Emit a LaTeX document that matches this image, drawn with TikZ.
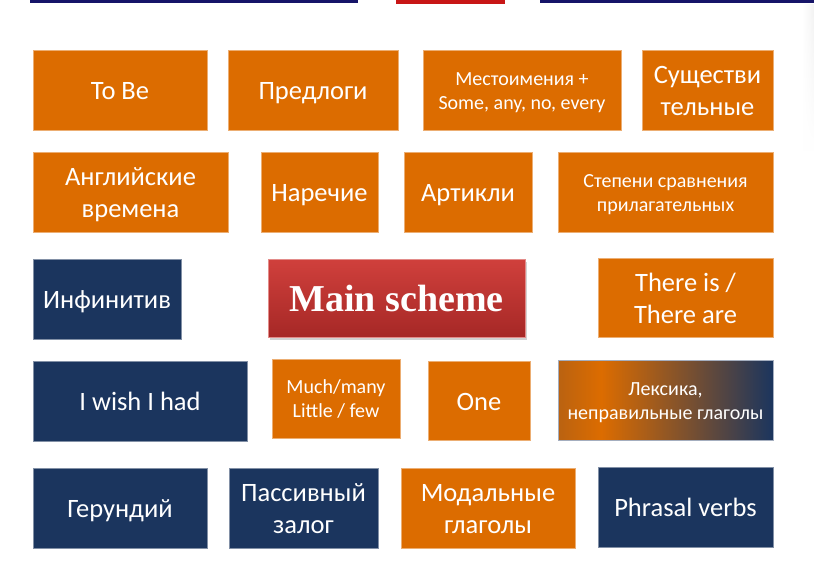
\documentclass[tikz,border=0pt]{standalone}
\usepackage{fontspec}
\setmainfont{Carlito}
\newfontfamily\headfont{Liberation Serif}
\usetikzlibrary{shadows,fadings}
\definecolor{topicorange}{RGB}{220,108,0}
\definecolor{topicnavy}{RGB}{27,53,94}
\definecolor{barnavy}{RGB}{22,20,104}
\definecolor{barred}{RGB}{200,22,22}
\definecolor{mainred}{RGB}{208,64,60}
\definecolor{maindark}{RGB}{166,40,38}
% orange-to-navy blend; the path itself spans 25bp..75bp
\pgfdeclarehorizontalshading{lexshade}{100bp}{%
  color(0bp)=(topicorange!82!topicnavy);
  color(25bp)=(topicorange!82!topicnavy);
  color(35bp)=(topicorange);
  color(75bp)=(topicnavy);
  color(100bp)=(topicnavy)}
\tikzset{
  topic/.style={rectangle, inner sep=0pt, align=center, text=white,
    line width=0.7pt},
  obox/.style={topic, fill=topicorange, draw=topicorange!55!white},
  nbox/.style={topic, fill=topicnavy, draw=topicnavy!55!white},
  % fixed text boxes so every label sits at the same height in its box
  big/.style={font=\fontsize{26.5}{32}\selectfont, text height=19.5pt, text depth=0pt},
  bigtwo/.style={font=\fontsize{26.5}{32}\selectfont, text height=51pt, text depth=0pt},
  smalltwo/.style={font=\fontsize{20}{24}\selectfont, text height=38.5pt, text depth=0pt},
}
\begin{document}
\begin{tikzpicture}[x=1pt,y=-1pt]
\useasboundingbox (0,0) rectangle (814,579);
\fill[white] (0,0) rectangle (814,579);
% faint page edge on the right
\shade[left color=white, right color=black!5, path fading=south] (802,4) rectangle (814,150);
% header bars
\fill[barnavy] (30,0) rectangle (358,3);
\fill[barred] (396,0) rectangle (505,3.5);
\fill[barnavy] (540,0) rectangle (814,3);

% row 1
\node[obox, big, minimum width=174, minimum height=80] (tobe) at (120,90) {To Be};
\node[obox, big, minimum width=170, minimum height=80] (prep) at (313,90) {Предлоги};
\node[obox, smalltwo, minimum width=198, minimum height=80] (pron) at (522,90) {Местоимения +\\Some, any, no, every};
\node[obox, bigtwo, minimum width=131, minimum height=80] (noun) at (707.5,90) {Существи\\тельные};

% row 2
\node[obox, bigtwo, minimum width=195, minimum height=80] (tense) at (130.5,192) {Английские\\времена};
\node[obox, big, minimum width=117, minimum height=80] (adv) at (319.5,192) {Наречие};
\node[obox, big, minimum width=128, minimum height=80] (art) at (468,192) {Артикли};
\node[obox, smalltwo, minimum width=215, minimum height=80] (comp) at (665.5,192) {Степени сравнения\\прилагательных};

% row 3
\node[nbox, big, minimum width=148, minimum height=80] (inf) at (107,299) {Инфинитив};
\node[rectangle, inner sep=0pt, minimum width=257, minimum height=78,
  top color=mainred, bottom color=maindark, draw=mainred!60!white, line width=0.6pt,
  drop shadow={shadow xshift=1.5pt, shadow yshift=-2.5pt, opacity=0.35},
  text=white, font=\headfont\bfseries\fontsize{38}{40}\selectfont] (main) at (396.5,298) {Main scheme};
\node[obox, bigtwo, minimum width=175, minimum height=79] (there) at (685.5,297.5) {There is /\\There are};

% row 4
\node[nbox, big, minimum width=214, minimum height=80] (wish) at (140,401) {I wish I had};
\node[obox, smalltwo, minimum width=128, minimum height=79] (much) at (336,398.5) {Much/many\\Little / few};
\node[obox, big, minimum width=102, minimum height=79] (one) at (479,400.5) {One};
\node[topic, shading=lexshade, draw=topicnavy!40!white, smalltwo,
  minimum width=215, minimum height=80] (lex) at (665.5,400) {Лексика,\\неправильные глаголы};

% row 5
\node[nbox, big, minimum width=174, minimum height=80] (ger) at (120,508) {Герундий};
\node[nbox, bigtwo, minimum width=149, minimum height=80] (pass) at (303.5,508) {Пассивный\\залог};
\node[obox, bigtwo, minimum width=174, minimum height=80] (modal) at (488,508) {Модальные\\глаголы};
\node[nbox, big, minimum width=175, minimum height=80] (phr) at (685.5,507) {Phrasal verbs};
\end{tikzpicture}
\end{document}
